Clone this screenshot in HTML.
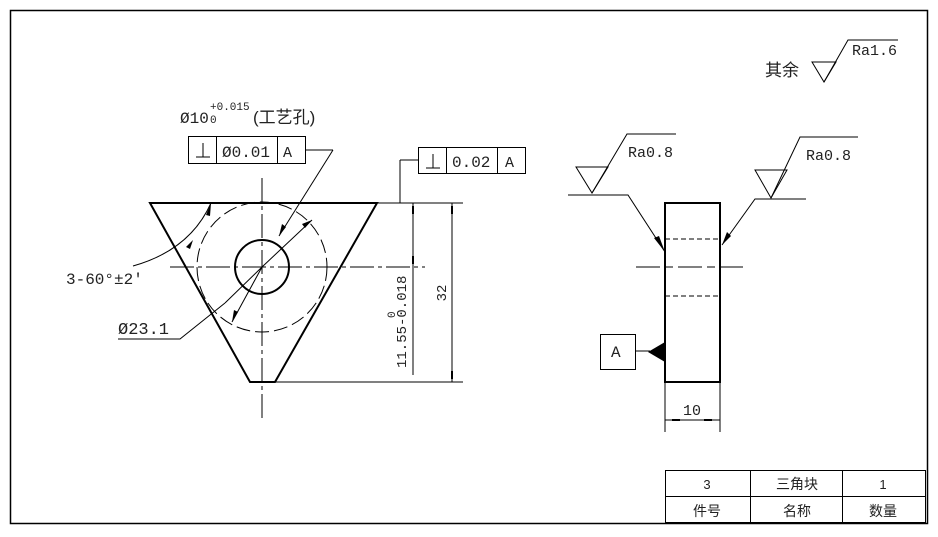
<!DOCTYPE html>
<html><head><meta charset="utf-8"><style>
html,body{margin:0;padding:0;background:#fff;width:938px;height:537px;overflow:hidden}
svg text{font-family:"Liberation Mono","Noto Sans CJK SC",monospace;fill:#222}
.cj{font-family:"Liberation Sans","Noto Sans CJK SC",sans-serif}
</style></head><body>
<svg width="938" height="537" viewBox="0 0 938 537" xmlns="http://www.w3.org/2000/svg" fill="none" stroke="#000">
<rect x="10.5" y="10.5" width="917" height="513" stroke-width="1.5"/>
<g stroke-width="1">
<rect x="665.5" y="470.5" width="260" height="52"/>
<line x1="665" y1="496.5" x2="925" y2="496.5"/>
<line x1="750.5" y1="470" x2="750.5" y2="522"/>
<line x1="842.5" y1="470" x2="842.5" y2="522"/>
</g>
<g class="cj" font-size="14" text-anchor="middle" stroke="none">
<text x="707" y="489" class="cj" font-size="13">3</text>
<text x="797" y="489" class="cj" font-size="14">三角块</text>
<text x="883" y="489" class="cj" font-size="13">1</text>
<text x="707" y="516" class="cj">件号</text>
<text x="797" y="516" class="cj">名称</text>
<text x="883" y="516" class="cj">数量</text>
</g>
<polygon points="150,203 377,203 275,382 250,382" stroke-width="2"/>
<circle cx="262" cy="267" r="27" stroke-width="2"/>
<circle cx="262" cy="267" r="65" stroke-width="1" stroke-dasharray="14,5"/>
<line x1="262" y1="178" x2="262" y2="418" stroke-width="1" stroke-dasharray="24,4,4,4"/>
<line x1="170" y1="267" x2="425" y2="267" stroke-width="1" stroke-dasharray="24,4,4,4"/>
<g stroke-width="1">
<line x1="377" y1="203" x2="463" y2="203"/>
<line x1="275" y1="382" x2="463" y2="382"/>
<line x1="452" y1="203" x2="452" y2="382"/>
<line x1="413" y1="203" x2="413" y2="375"/>
<line x1="305" y1="150" x2="333" y2="150"/>
<line x1="333" y1="150" x2="279" y2="236"/>
<line x1="262" y1="267" x2="312" y2="220"/>
<line x1="262" y1="267" x2="232" y2="322"/>
<line x1="262" y1="267" x2="225" y2="303"/>
<polyline points="118,339 180,339 225,303"/>
<path d="M133,266 Q190,250 211,203"/>
<line x1="418" y1="160" x2="400" y2="160"/>
<line x1="400" y1="160" x2="400" y2="203"/>
</g>
<g fill="#000" stroke="none">
<polygon points="279,236 282,224 286,227"/>
<polygon points="312,220 302,224 305,228"/>
<polygon points="232,322 234,310 238,312"/>
<polygon points="211,203 206,215 210,216"/>
<polygon points="193,240 186,247 190,249"/>
<rect x="451" y="206" width="2" height="8"/><rect x="451" y="371" width="2" height="8"/>
<rect x="412" y="206" width="2" height="8"/><rect x="412" y="256" width="2" height="8"/>
</g>
<g stroke-width="1">
<rect x="188.5" y="136.5" width="117" height="27"/>
<line x1="216.5" y1="136" x2="216.5" y2="163"/>
<line x1="277.5" y1="136" x2="277.5" y2="163"/>
<rect x="418.5" y="147.5" width="107" height="26"/>
<line x1="446.5" y1="147" x2="446.5" y2="173"/>
<line x1="497.5" y1="147" x2="497.5" y2="173"/>
<path d="M196,157H210M203,157V143"/>
<path d="M426,168H440M433,168V154"/>
</g>
<g stroke="none" font-size="16">
<text x="222" y="157">Ø0.01</text>
<text x="283" y="157" font-size="15">A</text>
<text x="452" y="167">0.02</text>
<text x="505" y="167" font-size="15">A</text>
<text x="180" y="123" font-size="16">Ø10</text>
<text x="210" y="110" font-size="11">+0.015</text>
<text x="210" y="123" font-size="11">0</text>
<text x="253" y="123" class="cj" font-size="17">(工艺孔)</text>
<text x="66" y="284" font-size="16">3-60°±2′</text>
<text x="118" y="334" font-size="17">Ø23.1</text>
<text transform="translate(446,293) rotate(-90)" text-anchor="middle" font-size="14">32</text>
<text transform="translate(406,368) rotate(-90)" font-size="14">11.55-0.018</text>
<text transform="translate(395,318) rotate(-90)" font-size="11">0</text>
<text x="765" y="76" class="cj" font-size="17">其余</text>
<text x="852" y="55" font-size="15">Ra1.6</text>
<text x="628" y="157" font-size="15">Ra0.8</text>
<text x="806" y="160" font-size="15">Ra0.8</text>
<text x="611" y="357" font-size="16">A</text>
<text x="692" y="415" text-anchor="middle" font-size="15">10</text>
</g>
<rect x="665" y="203" width="55" height="179" stroke-width="2"/>
<g stroke-width="1">
<line x1="665" y1="239" x2="720" y2="239" stroke-dasharray="5,3"/>
<line x1="665" y1="296" x2="720" y2="296" stroke-dasharray="5,3"/>
<line x1="636" y1="267" x2="743" y2="267" stroke-dasharray="24,5,8,5"/>
<rect x="600.5" y="334.5" width="35" height="35"/>
<line x1="635" y1="351" x2="650" y2="351"/>
<line x1="665" y1="382" x2="665" y2="432"/>
<line x1="720" y1="382" x2="720" y2="432"/>
<line x1="665" y1="420" x2="720" y2="420"/>
<path d="M568,195H628L665,252"/>
<path d="M576,167H608L592,193Z"/>
<path d="M592,193L627,134H676"/>
<path d="M806,199H755L722,245"/>
<path d="M755,170H787L771,198Z"/>
<path d="M771,198L800,137H858"/>
<path d="M812,62H836L824,82Z"/>
<path d="M824,82L848,40H898"/>
</g>
<g fill="#000" stroke="none">
<polygon points="665,342 665,362 648,352"/>
<polygon points="665,252 654,238 659,236"/>
<polygon points="722,245 727,232 731,236"/>
<rect x="672" y="419" width="8" height="2"/><rect x="704" y="419" width="8" height="2"/>
</g>
</svg>
</body></html>
